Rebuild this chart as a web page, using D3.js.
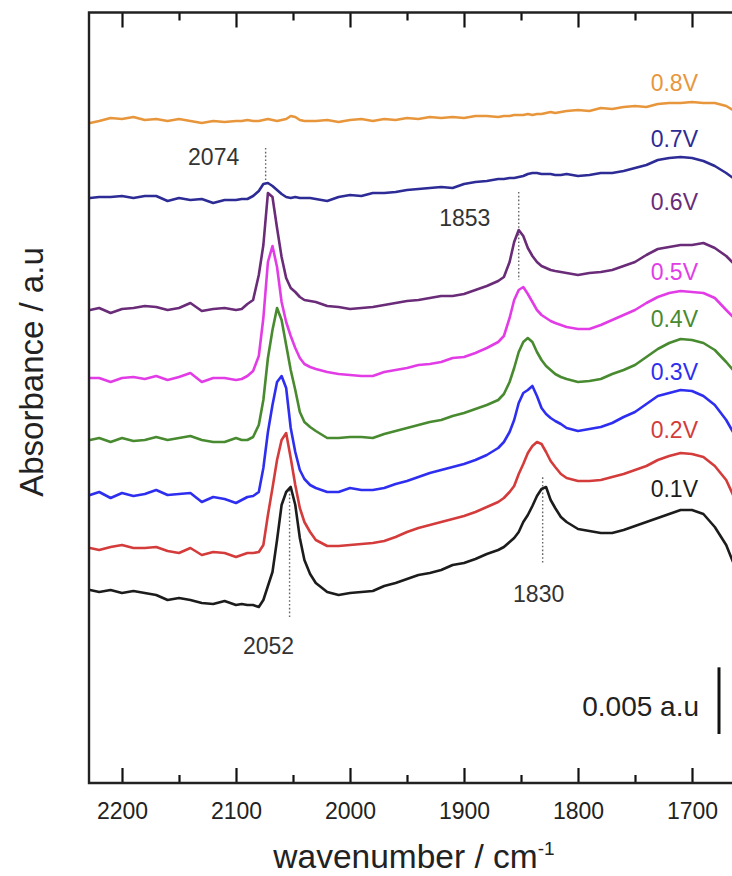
<!DOCTYPE html>
<html><head><meta charset="utf-8">
<script src="https://cdn.jsdelivr.net/npm/d3@7/dist/d3.min.js"></script>
<style>body{margin:0;background:#fff}svg{display:block}text{font-family:"Liberation Sans",Arial,sans-serif}</style>
</head><body><svg id="chart" width="732" height="876"></svg>
<script>
// wavenumber grid (cm^-1)
const wavenumbers = [2228,2220,2210,2200,2190,2180,2170,2160,2150,2140,2130,2120,2110,2100,2095,2090,2085,2080,2076,2072,2068,2064,2060,2056,2052,2048,2044,2040,2035,2030,2020,2010,2000,1990,1980,1970,1960,1950,1940,1930,1920,1910,1900,1890,1880,1870,1865,1860,1856,1852,1848,1844,1840,1836,1832,1828,1824,1820,1815,1810,1800,1790,1780,1770,1760,1750,1740,1730,1720,1710,1700,1690,1680,1670,1664];
// spectra, absorbance in 1e-4 a.u., relative to each trace's own left baseline
const s01 = [0,-1.5,0,-2.25,-0.75,-2.25,-3.75,-7.5,-6,-7.5,-9.75,-10.5,-8.25,-11.25,-10.5,-11.25,-11.25,-12.75,-7.5,3,13.5,37.5,63.75,73.5,77.25,63.75,39,22.5,12,5.25,-1.5,-3.75,-2.25,-1.5,-0.75,3,5.25,8.25,11.25,12.75,15,18.75,20.25,23.25,27,30,32.25,36,39,43.5,51,56.25,63,70.5,75.75,77.25,67.5,61.5,54.75,51,45.75,44.25,42.75,42.75,45,48,51,54,57,60,60,57,47.25,33.75,21];
const s02 = [0,-1.5,0.75,2.25,0,0,0.75,-2.25,-3.75,0,-5.25,-3,-3.75,-6.75,-5.25,-3.75,-3.75,-3,2.25,24.75,45,66,81,86.25,67.5,47.25,30,19.5,12,6,1.5,1.5,2.25,3,3.75,5.25,8.25,12,15,17.25,19.5,21.75,24,27,30.75,34.5,37.5,42,46.5,55.5,63,71.25,76.5,79.5,78,72,65.25,60.75,55.5,52.5,50.25,50.25,51,53.25,55.5,58.5,61.5,66,69,71.25,70.5,68.25,61.5,51,39.75];
const s03 = [0,2.25,-2.25,1.5,-0.75,0.75,3.75,0,0.75,1.5,-5.25,-1.5,-3,-6,-3.75,-1.5,-0.75,2.25,20.25,47.25,67.5,84.75,89.25,80.25,50.25,32.25,18.75,12,7.5,5.25,2.25,2.25,5.25,3.75,3.75,5.25,8.25,10.5,13.5,16.5,18.75,21,23.25,26.25,30,35.25,39.75,47.25,56.25,69,76.5,78.75,81.75,74.25,65.25,60.75,57.75,55.5,53.25,50.25,48,49.5,51,54,58.5,62.25,68.25,74.25,76.5,78.75,78,74.25,67.5,56.25,47.25];
const s04 = [0,1.5,-1.5,1.5,-0.75,0,2.25,0,1.5,3,0,-1.5,-1.5,1.5,0,0,2.25,11.25,30,61.5,82.5,99,90,71.25,52.5,37.5,21,13.5,9.75,6.75,1.5,1.5,2.25,2.25,1.5,4.5,6.75,9,11.25,13.5,15,18,20.25,23.25,26.25,30,34.5,43.5,54,66,73.5,76.5,73.5,66,60,55.5,52.5,49.5,47.25,45.75,43.5,44.25,45.75,49.5,52.5,56.25,62.25,68.25,72.75,75.75,75,72.75,67.5,58.5,52.5];
const s05 = [0,0,-3,0,0.75,-0.75,1.5,-1.5,0.75,3.75,-3,0,0,-1.5,-0.75,1.5,5.25,16.5,45,87,99,83.25,57,42,31.5,22.5,15,10.5,8.25,6.75,4.5,3,2.25,1.5,1.5,4.5,6,7.5,9.75,10.5,12,15,15.75,18.75,22.5,27,31.5,45,58.5,66,68.25,63,57,51,47.25,45,42.75,41.25,39.75,38.25,36.75,36.75,39.75,43.5,47.25,51,56.25,60.75,63.75,65.25,64.5,63.75,60,51,45.75];
const s06 = [0,1.5,-2.25,0.75,1.5,3,2.25,0,1.5,5.25,-0.75,0.75,1.5,0,0.75,4.5,7.5,26.25,48.75,87.75,84.75,61.5,39.75,24,16.5,13.5,9.75,7.5,6.75,6,3,2.25,0.75,1.5,2.25,3.75,5.25,6.75,7.5,9,10.5,10.5,12,15,18,21.75,24.75,36,51,60,55.5,46.5,40.5,36,33,31.5,30,29.25,28.5,27.75,26.25,27.75,28.5,30,33,36,41.25,45.75,47.25,48.75,48.75,50.25,46.5,40.5,35.25];
const s07 = [0,0.75,0.75,1.5,0,1.5,1.5,-2.25,0,-1.5,-0.75,-3.75,-1.5,-1.5,-0.75,-0.75,1.5,5.25,10.5,11.25,9,6,3,0.75,0,0.75,0,0,0,-0.75,-2.25,0.75,2.25,1.5,3.75,3.75,4.5,6,6.75,7.5,8.25,7.5,10.5,12,12.75,14.25,14.25,15,15,15.75,16.5,18,18.75,18.75,18,18,18,17.25,17.25,18,16.5,17.25,18.75,18.75,20.25,22.5,24.75,28.5,30,30.75,30,27.75,24,18.75,15];
const s08 = [0,1.5,3.75,3,4.5,2.25,3,1.5,3,1.5,0,1.5,0.75,1.5,1.5,2.25,1.5,1.5,2.25,3,2.25,1.5,2.25,3,5.25,4.5,2.25,1.5,1.5,1.5,2.25,0.75,2.25,3,1.5,3,2.25,3.75,3,4.5,3.75,4.5,3.75,5.25,5.25,4.5,5.25,5.25,6,6,6,6.75,6,6.75,6.75,7.5,8.25,7.5,8.25,9,9.75,9,11.25,10.5,12,12.75,12,14.25,15,15,15.75,15,15,12.75,9.75];
const potentials = ["0.1V","0.2V","0.3V","0.4V","0.5V","0.6V","0.7V","0.8V"];
// vertical stacking offsets (1e-4 a.u.)
const offsets = [142.5,174,213.75,255,301.5,352.5,436.5,492.75];
const colors = ["#1c1c1c","#d43b3b","#2e2ef0","#488a2f","#e23ce6","#6a2b78","#2d2b95","#e8963c"];
const xMajorTicks = [2200,2100,2000,1900,1800,1700];
const xMinorTicks = [2150,2050,1950,1850,1750];
// peak annotations: label, wavenumber, dotted line top / bottom (1e-4 a.u.)
const peakLabels = ["2074","1853","1830","2052"];
const peakWaves = [2074,1852,1831,2053];
const peakTop = [474,441,227,217.5];
const peakBottom = [450,375,162,122];
const scaleBarValue = 50; // 0.005 a.u.
const scaleBarText = "0.005 a.u";

const series = [s01,s02,s03,s04,s05,s06,s07,s08];

const svg = d3.select("#chart");
const L = 89, R = 745, T = 12.5, B = 783;
const x = d3.scaleLinear().domain([2200,1700]).range([122,692]);
const y = d3.scaleLinear().domain([-2.25,576]).range([B,12]);

const plot = svg.append("g");
plot.append("defs").append("clipPath").attr("id","clip")
  .append("rect").attr("x",L).attr("y",T).attr("width",R-L).attr("height",B-T);

// dotted peak lines
peakLabels.forEach((lab,i)=>{
  plot.append("line")
    .attr("x1",x(peakWaves[i])).attr("x2",x(peakWaves[i]))
    .attr("y1",y(peakTop[i])).attr("y2",y(peakBottom[i]))
    .attr("stroke","#666").attr("stroke-width",1.4).attr("stroke-dasharray","1.6,2.2");
});

const line = d3.line().x((d,i)=>x(wavenumbers[i])).y(d=>y(d));
series.forEach((s,k)=>{
  plot.append("path")
    .datum(s.map(v=>v+offsets[k]))
    .attr("clip-path","url(#clip)")
    .attr("fill","none").attr("stroke",colors[k]).attr("stroke-width",2.6)
    .attr("stroke-linejoin","round").attr("stroke-linecap","round")
    .attr("d",line);
});

// trace labels
const labelY = [497,438,380,327,280,210,147,91];
potentials.forEach((p,k)=>{
  svg.append("text").attr("x",698).attr("y",labelY[k]).attr("text-anchor","end")
    .attr("font-size",23).attr("fill",colors[k]).text(p);
});

// peak labels
const labPos = [[-52,17],[-54,34],[-4,38],[-21,37]];
peakLabels.forEach((lab,i)=>{
  const px = x(peakWaves[i]);
  const py = i<2 ? y(peakTop[i]) : y(peakBottom[i]);
  svg.append("text").attr("x",px+labPos[i][0]).attr("y",py+labPos[i][1])
    .attr("text-anchor","middle").attr("font-size",23).attr("fill","#333").text(lab);
});

// scale bar
svg.append("line").attr("x1",719).attr("x2",719)
  .attr("y1",y(34.5)).attr("y2",y(34.5+scaleBarValue))
  .attr("stroke","#111").attr("stroke-width",3);
svg.append("text").attr("x",699).attr("y",716).attr("text-anchor","end")
  .attr("font-size",28).attr("fill","#222").text(scaleBarText);

// axes (frame)
const axB = svg.append("g").attr("transform",`translate(0,${B})`)
  .call(d3.axisBottom(x).tickValues(xMajorTicks).tickSize(-15).tickPadding(20).tickFormat(d3.format("d")));
axB.select(".domain").remove();
axB.selectAll("text").attr("font-size",23).attr("fill","#222").attr("font-family","Liberation Sans, Arial, sans-serif");
axB.selectAll(".tick line").attr("stroke","#111").attr("stroke-width",2.2);
const axBm = svg.append("g").attr("transform",`translate(0,${B})`)
  .call(d3.axisBottom(x).tickValues(xMinorTicks).tickSize(-8).tickFormat(""));
axBm.select(".domain").remove();
axBm.selectAll(".tick line").attr("stroke","#111").attr("stroke-width",2.2);

const axT = svg.append("g").attr("transform",`translate(0,${T})`)
  .call(d3.axisTop(x).tickValues(xMajorTicks).tickSize(-15).tickFormat(""));
axT.select(".domain").remove();
axT.selectAll(".tick line").attr("stroke","#111").attr("stroke-width",2.2);
const axTm = svg.append("g").attr("transform",`translate(0,${T})`)
  .call(d3.axisTop(x).tickValues(xMinorTicks).tickSize(-8).tickFormat(""));
axTm.select(".domain").remove();
axTm.selectAll(".tick line").attr("stroke","#111").attr("stroke-width",2.2);

svg.append("path").attr("d",`M${R},${T}H${L}V${B}H${R}`)
  .attr("fill","none").attr("stroke","#222").attr("stroke-width",2.4);

// axis titles
const xt = svg.append("text").attr("x",414).attr("y",868).attr("text-anchor","middle")
  .attr("font-size",33.5).attr("fill","#222");
xt.append("tspan").text("wavenumber / cm");
xt.append("tspan").attr("dy",-13).attr("font-size",19).text("-1");
svg.append("text").attr("transform","translate(43,372) rotate(-90)").attr("text-anchor","middle")
  .attr("font-size",33).attr("fill","#222").text("Absorbance / a.u");
</script></body></html>
